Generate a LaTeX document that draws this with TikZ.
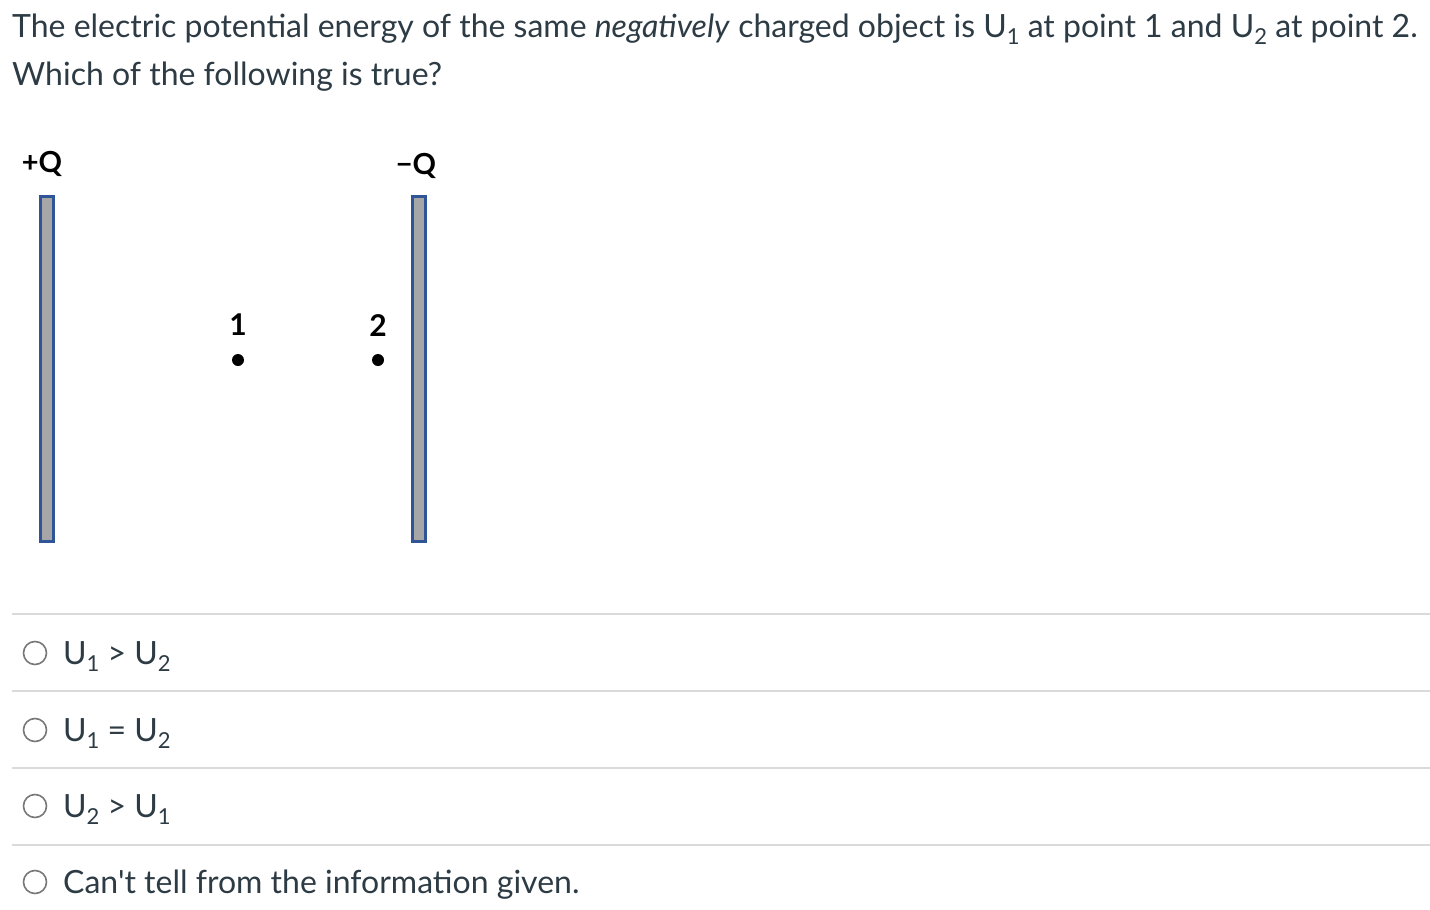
\documentclass[tikz,border=0pt]{standalone}
\usepackage{fontspec}
\setmainfont{Lato}[Ligatures=TeXOff]
\definecolor{canvastext}{HTML}{2D3B45}
\definecolor{platefill}{HTML}{A6A6A6}
\definecolor{plateedge}{HTML}{2F5597}
\definecolor{ruleline}{HTML}{DADADA}
\definecolor{radioedge}{HTML}{777777}
\newcommand{\Usub}[1]{U\raisebox{-0.22em}{\fontsize{22}{22}\selectfont #1}}
\tikzset{
	plate/.style={draw=plateedge,fill=platefill,line width=3pt},
	qlabel/.style={font=\fontsize{29}{32}\selectfont\bfseries,text=black,inner sep=0pt},
	ptlabel/.style={font=\fontsize{30}{34}\selectfont\bfseries,text=black,inner sep=0pt},
	choice/.style={font=\fontsize{32}{38}\selectfont,text=canvastext,anchor=base west,inner sep=0pt},
	radio/.style={circle,draw=radioedge,line width=1.6pt,minimum size=23pt,inner sep=0pt},
	sep/.style={draw=ruleline,line width=2pt}
}
\begin{document}
\begin{tikzpicture}[x=1pt,y=-1pt]
	\useasboundingbox (0,0) rectangle (1430,910);

	% question
	\node[font=\fontsize{32}{47}\selectfont,text=canvastext,anchor=base west,inner sep=0pt](qline1)at(12,37.5)
		{The electric potential energy of the same \textit{negatively} charged object is \Usub{1} at point 1 and \Usub{2} at point 2.};
	\node[font=\fontsize{32}{47}\selectfont,text=canvastext,anchor=base west,inner sep=0pt](qline2)at(12,85.5)
		{Which of the following is true?};

	% plates
	\draw[plate](40,196) rectangle (53,541);
	\draw[plate](412,196) rectangle (425,541);
	\node[qlabel](qpos)at(42,164) {+Q};
	\node[qlabel](qneg)at(416,166) {−Q};

	% points
	\node[ptlabel](lab1)at(238,325) {1};
	\node[ptlabel](lab2)at(378,326) {2};
	\node[circle,fill=black,inner sep=0pt,minimum size=12pt](pt1)at(238,360) {};
	\node[circle,fill=black,inner sep=0pt,minimum size=12pt](pt2)at(378,360) {};

	% answer choices
	\draw[sep](12,614)--(1430,614);
	\draw[sep](12,691)--(1430,691);
	\draw[sep](12,768)--(1430,768);
	\draw[sep](12,845)--(1430,845);

	\node[radio](r1)at(35,653) {};
	\node[choice](c1)at(63,664.5) {\Usub{1} > \Usub{2}};
	\node[radio](r2)at(35,730) {};
	\node[choice](c2)at(63,741.5) {\Usub{1} = \Usub{2}};
	\node[radio](r3)at(35,806) {};
	\node[choice](c3)at(63,817.5) {\Usub{2} > \Usub{1}};
	\node[radio](r4)at(35,882) {};
	\node[choice](c4)at(63,893.5) {Can't tell from the information given.};
\end{tikzpicture}
\end{document}
